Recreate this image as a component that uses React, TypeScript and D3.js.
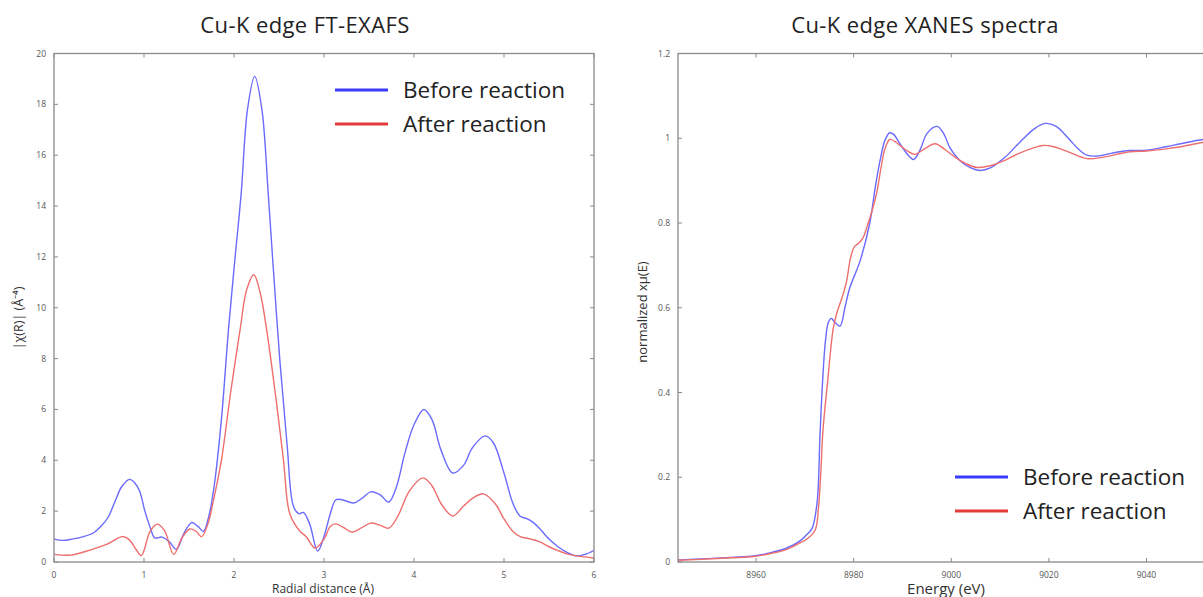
import * as d3 from 'd3'

// FT-EXAFS |chi(R)| vs R (Å)
const EXAFS_BEFORE: [number, number][] = [
  [0, 0.9], [0.1, 0.85], [0.2, 0.9], [0.33, 1.0], [0.44, 1.15], [0.52, 1.4], [0.6, 1.75], [0.68, 2.4],
  [0.75, 2.95], [0.84, 3.25], [0.9, 3.1], [0.95, 2.8], [1.01, 2.0], [1.07, 1.35], [1.12, 0.95], [1.2, 0.98],
  [1.28, 0.8], [1.36, 0.5], [1.44, 1.1], [1.53, 1.55], [1.6, 1.4], [1.66, 1.2], [1.72, 1.8], [1.78, 3.0],
  [1.86, 5.6], [1.94, 9.2], [2.01, 11.9], [2.08, 14.5], [2.15, 17.8], [2.23, 19.1], [2.31, 17.8], [2.38, 14.5],
  [2.43, 11.9], [2.51, 7.9], [2.59, 4.6], [2.66, 2.2], [2.72, 1.9], [2.77, 1.95], [2.84, 1.5], [2.93, 0.43],
  [3.0, 1.0], [3.07, 1.9], [3.13, 2.44], [3.2, 2.45], [3.33, 2.32], [3.42, 2.5], [3.52, 2.76], [3.62, 2.65],
  [3.72, 2.36], [3.8, 2.9], [3.9, 4.3], [4.0, 5.4], [4.11, 6.0], [4.2, 5.6], [4.3, 4.4], [4.43, 3.5],
  [4.55, 3.8], [4.65, 4.5], [4.79, 4.96], [4.88, 4.7], [5.0, 3.5], [5.1, 2.3], [5.18, 1.8], [5.26, 1.7],
  [5.32, 1.57], [5.4, 1.3], [5.5, 0.9], [5.6, 0.6], [5.7, 0.38], [5.81, 0.24], [5.9, 0.3], [6.0, 0.45],
]
const EXAFS_AFTER: [number, number][] = [
  [0, 0.3], [0.18, 0.27], [0.4, 0.47], [0.59, 0.7], [0.76, 1.0], [0.84, 0.86], [0.91, 0.5], [0.97, 0.25],
  [1.07, 1.22], [1.15, 1.49], [1.23, 1.22], [1.33, 0.3], [1.42, 0.94], [1.51, 1.3], [1.58, 1.2], [1.64, 1.0],
  [1.71, 1.5], [1.77, 2.4], [1.86, 4.0], [1.96, 6.6], [2.07, 9.2], [2.14, 10.7], [2.22, 11.3], [2.29, 10.6],
  [2.36, 9.2], [2.46, 6.6], [2.55, 4.0], [2.62, 1.9], [2.73, 1.22], [2.8, 1.0], [2.9, 0.55], [3.0, 0.9],
  [3.07, 1.4], [3.13, 1.5], [3.22, 1.35], [3.31, 1.18], [3.42, 1.35], [3.52, 1.53], [3.62, 1.45], [3.72, 1.33],
  [3.82, 1.8], [3.95, 2.8], [4.1, 3.31], [4.2, 3.0], [4.3, 2.3], [4.43, 1.81], [4.55, 2.2], [4.65, 2.5],
  [4.77, 2.68], [4.9, 2.3], [5.0, 1.7], [5.1, 1.2], [5.18, 1.0], [5.3, 0.9], [5.4, 0.79], [5.5, 0.6],
  [5.6, 0.45], [5.7, 0.32], [5.8, 0.24], [5.9, 0.2], [6.0, 0.16],
]

// XANES normalized mu(E) vs energy (eV)
const XANES_BEFORE: [number, number][] = [
  [8944, 0.005], [8950, 0.008], [8955, 0.011], [8959.5, 0.014], [8963, 0.022], [8966.3, 0.033], [8969, 0.05],
  [8970.5, 0.066], [8971.5, 0.08], [8972.5, 0.14], [8973.1, 0.3], [8973.6, 0.42], [8974.2, 0.52], [8974.8, 0.565],
  [8975.4, 0.575], [8976.2, 0.565], [8977.2, 0.557], [8978.2, 0.6], [8979.2, 0.647], [8981.3, 0.71], [8983.3, 0.8],
  [8984.5, 0.89], [8985.4, 0.947], [8986.4, 0.995], [8987.4, 1.013], [8988.3, 1.008], [8989.1, 0.994],
  [8990.8, 0.965], [8992.3, 0.95], [8993.7, 0.975], [8995, 1.011], [8997.1, 1.028], [8998.5, 1.01],
  [8999.7, 0.978], [9001.8, 0.947], [9004, 0.93], [9005.9, 0.924], [9008, 0.93], [9011, 0.955], [9014, 0.99],
  [9017, 1.022], [9019.2, 1.035], [9021.5, 1.028], [9024, 1.0], [9026, 0.975], [9027.8, 0.96], [9030, 0.958],
  [9033, 0.965], [9036.6, 0.971], [9040, 0.972], [9044, 0.98], [9047, 0.987], [9051.6, 0.997], [9056, 1.0],
]
const XANES_AFTER: [number, number][] = [
  [8944, 0.004], [8950, 0.007], [8955, 0.01], [8959.5, 0.013], [8963, 0.02], [8966.3, 0.03], [8969, 0.045],
  [8970.5, 0.055], [8972.1, 0.075], [8972.8, 0.13], [8973.3, 0.22], [8973.7, 0.31], [8974.7, 0.43],
  [8975.8, 0.55], [8976.6, 0.59], [8977.5, 0.62], [8978.5, 0.66], [8979.4, 0.72], [8980.2, 0.745],
  [8981, 0.752], [8981.9, 0.765], [8982.7, 0.79], [8983.8, 0.83], [8984.8, 0.876], [8985.6, 0.93],
  [8986.4, 0.975], [8987.4, 0.997], [8988.5, 0.992], [8989.5, 0.983], [8991, 0.97], [8992.6, 0.962],
  [8994.5, 0.975], [8996.7, 0.987], [8998.5, 0.975], [9001.2, 0.952], [9003, 0.94], [9005.3, 0.931],
  [9008, 0.935], [9011, 0.948], [9014, 0.965], [9017, 0.978], [9018.8, 0.983], [9021, 0.98], [9024, 0.968],
  [9027.8, 0.952], [9031, 0.955], [9036.6, 0.968], [9040, 0.97], [9044, 0.975], [9047, 0.98], [9051.6, 0.99],
  [9056, 0.994],
]

const EXAFS_XTICKS = [0, 1, 2, 3, 4, 5, 6]
const EXAFS_YTICKS = [0, 2, 4, 6, 8, 10, 12, 14, 16, 18, 20]
const XANES_XTICKS = [8960, 8980, 9000, 9020, 9040]
const XANES_YTICKS = [0, 0.2, 0.4, 0.6, 0.8, 1, 1.2]
const SERIES = ['Before reaction', 'After reaction']

const BLUE = '#6a6aff', RED = '#ee6e6e'
const BLUE_KEY = '#3a3aff', RED_KEY = '#e53a3a'
const AXIS = '#8a8a8a', FONT = '"Open Sans", "Noto Sans", sans-serif'

type PanelProps = {
  id: string
  x0: number; x1: number; y0: number; y1: number
  xDomain: [number, number]; yDomain: [number, number]
  xTicks: number[]; yTicks: number[]
  before: [number, number][]; after: [number, number][]
}

function Panel(p: PanelProps) {
  const x = d3.scaleLinear().domain(p.xDomain).range([p.x0, p.x1])
  const y = d3.scaleLinear().domain(p.yDomain).range([p.y1, p.y0])
  const line = d3.line<[number, number]>().x(d => x(d[0])).y(d => y(d[1])).curve(d3.curveCatmullRom.alpha(0.5))
  const t = 4
  return (
    <g>
      <defs>
        <clipPath id={p.id}><rect x={p.x0} y={p.y0} width={p.x1 - p.x0} height={p.y1 - p.y0} /></clipPath>
      </defs>
      <g clipPath={`url(#${p.id})`} fill="none" strokeWidth={1.4}>
        <path d={line(p.before) || ''} stroke={BLUE} />
        <path d={line(p.after) || ''} stroke={RED} />
      </g>
      <rect x={p.x0} y={p.y0} width={p.x1 - p.x0} height={p.y1 - p.y0} fill="none" stroke={AXIS} strokeWidth={1.3} />
      {p.xTicks.map(v => (
        <g key={'x' + v} stroke={AXIS} strokeWidth={1}>
          <line x1={x(v)} x2={x(v)} y1={p.y1} y2={p.y1 - t} />
          <line x1={x(v)} x2={x(v)} y1={p.y0} y2={p.y0 + t} />
        </g>
      ))}
      {p.yTicks.map(v => (
        <g key={'y' + v} stroke={AXIS} strokeWidth={1}>
          <line x1={p.x0} x2={p.x0 + t} y1={y(v)} y2={y(v)} />
          <line x1={p.x1} x2={p.x1 - t} y1={y(v)} y2={y(v)} />
        </g>
      ))}
      <g fontSize={8.5} fill="#555" fontFamily={FONT}>
        {p.xTicks.map(v => (
          <text key={'xl' + v} x={x(v)} y={p.y1 + 16} textAnchor="middle">{String(v)}</text>
        ))}
        {p.yTicks.map(v => (
          <text key={'yl' + v} x={p.x0 - 8} y={y(v) + 3} textAnchor="end">{String(v)}</text>
        ))}
      </g>
    </g>
  )
}

function Legend({ x, y }: { x: number; y: number }) {
  const colors = [BLUE_KEY, RED_KEY]
  return (
    <g fontFamily={FONT} fontSize={22.5} fill="#222">
      {SERIES.map((s, i) => (
        <g key={s} transform={`translate(${x},${y + i * 34})`}>
          <line x1={0} x2={53} y1={0} y2={0} stroke={colors[i]} strokeWidth={3} />
          <text x={68} y={8}>{s}</text>
        </g>
      ))}
    </g>
  )
}

export default function App() {
  const W = 1203, H = 597
  return (
    <svg width={W} height={H} style={{ position: 'absolute', left: 0, top: 0, background: '#fff' }}>
      <rect width={W} height={H} fill="#fff" />
      <text x={305} y={33} textAnchor="middle" fontFamily={FONT} fontSize={22} letterSpacing={0.4} fill="#222">Cu-K edge FT-EXAFS</text>
      <text x={925} y={33} textAnchor="middle" fontFamily={FONT} fontSize={22} letterSpacing={0.4} fill="#222">Cu-K edge XANES spectra</text>

      <Panel id="cl" x0={54} x1={594} y0={53.5} y1={562} xDomain={[0, 6]} yDomain={[0, 20]}
        xTicks={EXAFS_XTICKS} yTicks={EXAFS_YTICKS} before={EXAFS_BEFORE} after={EXAFS_AFTER} />
      <Panel id="cr" x0={678} x1={1263.6} y0={53.5} y1={562} xDomain={[8944, 9064]} yDomain={[0, 1.2]}
        xTicks={XANES_XTICKS} yTicks={XANES_YTICKS} before={XANES_BEFORE} after={XANES_AFTER} />

      <text x={323} y={593} textAnchor="middle" fontFamily={FONT} fontSize={12} fill="#333">Radial distance    (Å)</text>
      <text transform="translate(23,318) rotate(-90)" textAnchor="middle" fontFamily={FONT} fontSize={12.5} fill="#333">|χ(R)|     (Å⁻⁴)</text>
      <text x={946} y={594} textAnchor="middle" fontFamily={FONT} fontSize={15} fill="#333">Energy    (eV)</text>
      <text transform="translate(647,312) rotate(-90)" textAnchor="middle" fontFamily={FONT} fontSize={13} fill="#333">normalized xμ(E)</text>

      <Legend x={335} y={90} />
      <Legend x={955} y={477} />
    </svg>
  )
}
